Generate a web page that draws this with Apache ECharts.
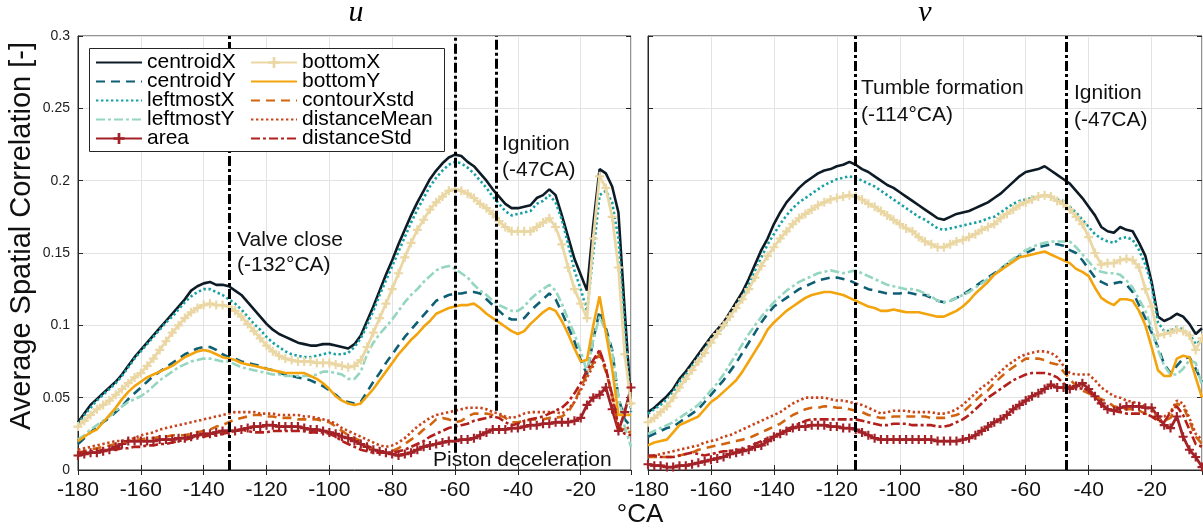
<!DOCTYPE html>
<html><head><meta charset="utf-8">
<script src="https://cdn.jsdelivr.net/npm/echarts@6/dist/echarts.min.js"></script>
<style>html,body{margin:0;padding:0;background:#fff}#c{width:1203px;height:530px}</style>
</head><body><div id="c"></div>
<script>
const CA = [-180,-178,-176,-174,-172,-170,-168,-166,-164,-162,
-160,-158,-156,-154,-152,-150,-148,-146,-144,-142,
-140,-138,-136,-134,-132,-130,-128,-126,-124,-122,
-120,-118,-116,-114,-112,-110,-108,-106,-104,-102,
-100,-98,-96,-94,-92,-90,-88,-86,-84,-82,
-80,-78,-76,-74,-72,-70,-68,-66,-64,-62,
-60,-58,-56,-54,-52,-50,-48,-46,-44,-42,
-40,-38,-36,-34,-32,-30,-28,-26,-24,-22,
-20,-18,-16,-14,-12,-10,-8,-6,-4];

const seriesNames = ['centroidX','centroidY','leftmostX','leftmostY','area','bottomX','bottomY','contourXstd','distanceMean','distanceStd'];
const panelTitles = ['u','v'];

// ---- panel u ----
const u_centroidX = [.033,.039,.045,.049,.053,.057,.061,.066,.072,.078,
.083,.088,.093,.098,.103,.108,.113,.118,.124,.127,
.129,.130,.128,.128,.127,.124,.121,.116,.111,.106,
.101,.097,.094,.092,.090,.088,.087,.086,.086,.087,
.087,.086,.085,.084,.087,.093,.103,.113,.124,.135,
.145,.156,.166,.176,.185,.193,.201,.207,.212,.216,
.218,.217,.213,.210,.205,.200,.194,.189,.184,.181,
.181,.182,.183,.188,.190,.194,.190,.176,.161,.146,
.135,.124,.170,.208,.205,.196,.178,.110,.045];
const u_centroidY = [.018,.022,.026,.030,.033,.036,.040,.044,.049,.053,
.057,.061,.065,.068,.071,.074,.077,.080,.082,.084,
.085,.085,.083,.080,.078,.077,.075,.074,.073,.072,
.070,.069,.067,.066,.065,.064,.063,.062,.060,.058,
.055,.052,.048,.047,.046,.047,.054,.061,.067,.074,
.080,.086,.092,.097,.102,.107,.112,.117,.119,.121,
.122,.122,.123,.123,.122,.118,.114,.110,.106,.104,
.104,.105,.110,.114,.118,.122,.118,.109,.099,.089,
.076,.066,.090,.110,.098,.083,.050,.035,.030];
const u_leftmostX = [.032,.038,.043,.048,.052,.056,.060,.065,.071,.077,
.082,.087,.092,.097,.102,.106,.111,.116,.120,.123,
.125,.125,.123,.121,.118,.115,.111,.106,.101,.097,
.092,.088,.085,.082,.080,.079,.078,.078,.079,.080,
.081,.080,.080,.081,.085,.091,.100,.110,.121,.131,
.141,.151,.161,.171,.180,.188,.196,.202,.207,.211,
.213,.212,.209,.205,.200,.195,.189,.184,.179,.176,
.177,.178,.179,.184,.186,.190,.185,.173,.156,.138,
.125,.110,.150,.190,.193,.185,.160,.100,.040];
const u_leftmostY = [.021,.024,.028,.031,.034,.037,.041,.044,.047,.049,
.051,.054,.058,.062,.065,.068,.071,.073,.075,.076,
.077,.077,.076,.075,.075,.073,.071,.070,.069,.068,
.067,.066,.066,.065,.065,.065,.065,.065,.066,.068,
.068,.067,.066,.063,.063,.068,.080,.088,.094,.099,
.104,.110,.116,.121,.125,.130,.134,.138,.140,.141,
.139,.136,.133,.128,.124,.121,.117,.114,.112,.110,
.110,.113,.118,.122,.125,.128,.124,.115,.104,.094,
.082,.068,.090,.106,.096,.082,.050,.030,.016];
const u_area = [.010,.011,.012,.012,.013,.014,.016,.018,.020,.020,
.020,.020,.020,.021,.021,.021,.022,.022,.023,.024,
.025,.025,.026,.027,.027,.027,.028,.029,.030,.030,
.031,.031,.030,.030,.030,.030,.029,.028,.028,.027,
.026,.025,.023,.022,.020,.018,.016,.014,.013,.012,
.011,.010,.011,.012,.014,.016,.017,.018,.019,.020,
.020,.021,.021,.022,.024,.026,.028,.028,.028,.029,
.029,.030,.031,.031,.032,.032,.033,.033,.033,.034,
.036,.045,.050,.052,.057,.042,.027,.040,.057];
const u_bottomX = [.030,.034,.038,.042,.045,.048,.052,.056,.060,.064,
.067,.072,.077,.083,.089,.095,.100,.105,.109,.112,
.114,.115,.114,.114,.113,.110,.106,.101,.096,.091,
.086,.082,.079,.077,.076,.075,.075,.075,.074,.074,
.074,.073,.072,.071,.072,.076,.085,.095,.105,.115,
.125,.136,.147,.157,.166,.173,.180,.185,.189,.193,
.194,.193,.191,.188,.184,.181,.177,.172,.168,.165,
.165,.165,.165,.168,.171,.174,.168,.156,.140,.125,
.115,.105,.160,.203,.195,.175,.140,.080,.046];
const u_bottomY = [.020,.023,.026,.028,.033,.038,.043,.049,.054,.058,
.061,.064,.066,.068,.070,.072,.075,.078,.080,.082,
.083,.082,.080,.078,.077,.076,.074,.073,.072,.071,
.070,.069,.068,.067,.067,.067,.067,.065,.063,.060,
.056,.051,.048,.046,.045,.046,.051,.056,.062,.068,
.074,.080,.085,.090,.094,.099,.103,.108,.110,.112,
.113,.114,.114,.115,.112,.108,.105,.102,.099,.096,
.094,.096,.101,.105,.109,.112,.110,.103,.094,.084,
.075,.076,.100,.120,.095,.070,.038,.038,.038];
const u_contourXstd = [.012,.013,.014,.015,.016,.017,.018,.019,.020,.021,
.021,.022,.022,.023,.023,.024,.024,.024,.025,.026,
.027,.028,.030,.031,.033,.035,.036,.037,.038,.038,
.037,.037,.036,.036,.036,.035,.035,.035,.035,.034,
.033,.030,.027,.024,.022,.020,.017,.014,.012,.012,
.013,.015,.018,.021,.024,.028,.031,.035,.036,.035,
.033,.034,.037,.039,.039,.039,.038,.038,.036,.033,
.033,.034,.035,.035,.035,.036,.036,.037,.040,.047,
.057,.066,.074,.080,.068,.052,.030,.027,.026];
const u_distanceMean = [.014,.015,.016,.017,.018,.019,.020,.020,.021,.022,
.024,.025,.026,.028,.029,.030,.031,.032,.033,.034,
.035,.036,.037,.038,.039,.040,.040,.040,.040,.039,
.039,.039,.038,.038,.038,.038,.037,.037,.036,.035,
.034,.032,.029,.027,.025,.023,.021,.019,.017,.016,
.017,.019,.022,.026,.030,.033,.036,.038,.039,.040,
.041,.042,.043,.043,.043,.042,.040,.039,.037,.036,
.037,.039,.040,.040,.040,.040,.040,.039,.042,.047,
.055,.064,.072,.083,.070,.050,.028,.028,.030];
const u_distanceStd = [.012,.012,.013,.013,.014,.014,.014,.015,.015,.016,
.016,.017,.017,.018,.018,.019,.020,.021,.022,.023,
.023,.024,.024,.025,.026,.027,.028,.027,.026,.026,
.026,.027,.027,.027,.027,.027,.027,.026,.026,.026,
.025,.023,.020,.018,.016,.014,.013,.012,.012,.012,
.012,.013,.014,.016,.018,.020,.023,.025,.027,.029,
.030,.031,.032,.034,.035,.036,.037,.036,.033,.031,
.032,.034,.035,.036,.037,.039,.041,.043,.047,.053,
.060,.069,.076,.083,.070,.052,.030,.025,.024];

// ---- panel v ----
const v_centroidX = [.040,.043,.047,.051,.056,.063,.068,.074,.080,.086,
.092,.097,.102,.109,.116,.123,.132,.142,.152,.160,
.170,.178,.185,.190,.195,.199,.202,.205,.207,.208,
.210,.211,.213,.211,.208,.206,.203,.200,.197,.195,
.192,.189,.186,.183,.180,.177,.174,.173,.175,.177,
.178,.179,.181,.183,.185,.188,.191,.195,.199,.203,
.206,.207,.208,.210,.207,.204,.201,.198,.193,.188,
.182,.176,.168,.165,.164,.168,.166,.165,.157,.148,
.130,.106,.103,.105,.108,.106,.101,.094,.098];
const v_centroidY = [.023,.025,.027,.029,.030,.033,.036,.039,.042,.047,
.052,.057,.062,.068,.074,.081,.088,.095,.102,.108,
.113,.116,.119,.122,.125,.127,.129,.131,.132,.133,
.133,.132,.131,.129,.127,.125,.124,.123,.122,.122,
.122,.123,.122,.121,.121,.119,.117,.116,.117,.119,
.121,.124,.127,.130,.133,.136,.139,.142,.145,.148,
.150,.152,.154,.155,.156,.156,.155,.152,.150,.145,
.139,.133,.130,.128,.129,.130,.128,.123,.114,.105,
.095,.085,.073,.067,.072,.077,.078,.070,.061];
const v_leftmostX = [.039,.042,.045,.049,.054,.061,.066,.072,.078,.083,
.089,.094,.099,.106,.113,.120,.128,.138,.147,.156,
.163,.170,.176,.181,.185,.188,.191,.194,.197,.199,
.201,.202,.203,.202,.200,.198,.196,.193,.190,.187,
.184,.181,.178,.175,.173,.170,.167,.166,.167,.168,
.169,.170,.171,.172,.174,.175,.178,.181,.184,.186,
.187,.188,.189,.190,.189,.187,.186,.182,.178,.173,
.168,.163,.160,.158,.157,.160,.161,.159,.152,.142,
.128,.102,.096,.096,.099,.097,.094,.087,.090];
const v_leftmostY = [.025,.027,.029,.031,.033,.036,.039,.042,.045,.050,
.055,.060,.066,.073,.080,.087,.094,.100,.106,.111,
.116,.120,.124,.127,.130,.132,.134,.136,.137,.138,
.137,.136,.137,.138,.136,.134,.132,.130,.128,.127,
.126,.125,.125,.124,.122,.120,.117,.116,.117,.119,
.121,.123,.126,.129,.132,.135,.139,.143,.146,.149,
.152,.154,.156,.157,.158,.158,.158,.158,.154,.149,
.144,.139,.137,.136,.136,.135,.131,.126,.118,.110,
.098,.083,.072,.066,.066,.070,.076,.074,.058];
const v_area = [.004,.003,.003,.002,.002,.003,.003,.004,.005,.006,
.007,.008,.009,.011,.012,.013,.014,.016,.017,.020,
.023,.025,.027,.029,.030,.030,.031,.031,.031,.030,
.030,.029,.029,.028,.026,.024,.022,.021,.021,.021,
.021,.021,.021,.021,.021,.021,.020,.020,.020,.020,
.021,.022,.024,.027,.030,.033,.035,.038,.042,.045,
.048,.051,.053,.056,.059,.057,.057,.056,.058,.060,
.056,.051,.046,.042,.041,.043,.044,.044,.044,.043,
.043,.037,.031,.029,.037,.023,.014,.009,.002];
const v_bottomX = [.033,.036,.040,.044,.050,.057,.063,.069,.075,.081,
.088,.094,.100,.106,.112,.118,.125,.133,.141,.148,
.154,.160,.165,.170,.174,.177,.180,.183,.185,.187,
.188,.189,.190,.189,.187,.184,.182,.179,.176,.173,
.170,.167,.165,.161,.158,.156,.154,.154,.156,.158,
.159,.161,.163,.166,.168,.170,.174,.177,.180,.183,
.185,.187,.189,.190,.189,.186,.184,.180,.175,.170,
.161,.150,.142,.143,.143,.145,.146,.145,.140,.125,
.113,.093,.094,.095,.097,.096,.093,.083,.091];
const v_bottomY = [.017,.019,.020,.021,.026,.031,.033,.035,.037,.042,
.047,.050,.054,.058,.062,.068,.075,.082,.089,.097,
.102,.106,.110,.113,.116,.119,.121,.122,.123,.123,
.122,.121,.119,.117,.115,.113,.112,.110,.110,.111,
.110,.109,.109,.109,.108,.107,.106,.106,.108,.110,
.113,.117,.122,.126,.130,.135,.138,.141,.144,.147,
.148,.149,.150,.151,.149,.147,.145,.143,.139,.137,
.134,.126,.119,.116,.114,.118,.118,.117,.110,.100,
.085,.069,.065,.065,.077,.079,.078,.064,.050];
const v_contourXstd = [.009,.009,.009,.009,.009,.010,.011,.012,.014,.015,
.016,.017,.018,.019,.020,.021,.022,.024,.026,.028,
.030,.032,.035,.038,.040,.042,.043,.043,.044,.044,
.043,.043,.042,.041,.040,.038,.037,.036,.036,.037,
.037,.037,.037,.037,.037,.036,.036,.036,.037,.038,
.040,.044,.048,.052,.055,.060,.064,.068,.071,.074,
.077,.077,.077,.076,.074,.073,.068,.063,.058,.055,
.053,.051,.049,.047,.044,.043,.042,.042,.041,.039,
.037,.035,.034,.036,.046,.044,.034,.023,.018];
const v_distanceMean = [.009,.010,.011,.012,.013,.014,.015,.016,.017,.019,
.020,.021,.023,.024,.026,.028,.030,.032,.034,.036,
.038,.040,.043,.046,.048,.050,.050,.050,.050,.049,
.048,.048,.047,.046,.045,.043,.041,.039,.040,.041,
.041,.041,.040,.040,.040,.040,.039,.039,.040,.042,
.045,.049,.053,.057,.060,.064,.068,.072,.075,.078,
.080,.081,.082,.082,.081,.078,.072,.067,.066,.066,
.066,.062,.057,.054,.051,.050,.048,.047,.046,.044,
.041,.037,.037,.040,.048,.046,.036,.025,.021];
const v_distanceStd = [.010,.010,.009,.009,.009,.010,.011,.012,.011,.010,
.011,.012,.013,.013,.014,.014,.016,.018,.020,.022,
.023,.025,.028,.030,.032,.034,.035,.035,.035,.035,
.035,.035,.035,.035,.034,.033,.032,.031,.031,.032,
.032,.032,.031,.031,.031,.031,.030,.030,.031,.033,
.035,.038,.042,.046,.050,.053,.056,.059,.062,.064,
.066,.067,.067,.067,.066,.064,.060,.057,.057,.056,
.055,.050,.045,.042,.041,.040,.039,.039,.039,.039,
.037,.034,.033,.040,.044,.038,.028,.018,.016];

const panelU = [u_centroidX,u_centroidY,u_leftmostX,u_leftmostY,u_area,u_bottomX,u_bottomY,u_contourXstd,u_distanceMean,u_distanceStd];
const panelV = [v_centroidX,v_centroidY,v_leftmostX,v_leftmostY,v_area,v_bottomX,v_bottomY,v_contourXstd,v_distanceMean,v_distanceStd];

// event lines (crank angle, lower end value)
const eventsU = [-132,-60,-47];
const eventsUFrom = [0,0.012,0.041];
const eventsV = [-114,-47];
const eventsVFrom = [0,0];

const PLUS = 'path://M-1.2,-5H1.2V-1.2H5V1.2H1.2V5H-1.2V1.2H-5V-1.2H-1.2Z';
const styles = [
  {color:'#0d1b26', type:'solid', width:2.6},
  {color:'#0f5f74', type:[9,6], width:2.6},
  {color:'#18a0a4', type:[2.4,2.6], width:2.6},
  {color:'#94d6c0', type:[9,3,3,3], width:2.6},
  {color:'#a32228', type:'solid', width:2.8, plus:true},
  {color:'#ead7a4', type:'solid', width:2.8, plus:true},
  {color:'#f3a30c', type:'solid', width:2.6},
  {color:'#d2640f', type:[9,6], width:2.6},
  {color:'#c8441c', type:[2.4,2.6], width:2.6},
  {color:'#b3201c', type:[9,3,3,3], width:2.6}
];

const series = [];
[panelU, panelV].forEach((panel, p) => {
  panel.forEach((arr, k) => {
    const st = styles[k];
    series.push({
      name: seriesNames[k], type:'line', xAxisIndex:p, yAxisIndex:p,
      data: CA.map((x,i)=>[x, arr[i]]),
      symbol: st.plus ? PLUS : 'none', symbolSize: 9, showSymbol: !!st.plus, showAllSymbol: true,
      itemStyle:{color: st.color},
      lineStyle:{color: st.color, width: st.width, type: st.type},
      animation:false, silent:true
    });
  });
  const ev = p===0 ? eventsU : eventsV;
  const evFrom = p===0 ? eventsUFrom : eventsVFrom;
  series.push({
    type:'line', xAxisIndex:p, yAxisIndex:p, data:[], z:5, animation:false, silent:true,
    markLine:{symbol:['none','none'], silent:true, animation:false, label:{show:false},
      lineStyle:{color:'#000', width:3, type:[10,3,3,3]},
      data: ev.map((x,i)=>[{coord:[x, evFrom[i]]},{coord:[x, 0.3]}])}
  });
});

const tickColor = '#262626';
function xAx(grid, pos, labels){
  return {type:'value', gridIndex:grid, position:pos, min:-180, max:-4, interval:20,
    axisLine:{show:labels, lineStyle:{color:tickColor, width:1}},
    axisTick:{show:true, inside:true, length:5, lineStyle:{color:tickColor}},
    axisLabel:{show:labels, showMaxLabel:false, fontSize:21, color:'#111', fontFamily:'Liberation Sans', margin:10},
    splitLine:{show:labels, lineStyle:{color:'#e3e3e3', width:1}}};
}
function yAx(grid, pos, labels, main){
  return {type:'value', gridIndex:grid, position:pos, min:0, max:0.3, interval:0.05,
    axisLine:{show:main, lineStyle:{color:tickColor, width:1}},
    axisTick:{show:true, inside:true, length:5, lineStyle:{color:tickColor}},
    axisLabel:{show:labels, fontSize:14, color:'#222', fontFamily:'Liberation Sans', margin:8},
    splitLine:{show:main, lineStyle:{color:'#e3e3e3', width:1}}};
}

function legendItems(names){
  return names.map(n => {
    const k = seriesNames.indexOf(n);
    return styles[k].plus ? {name:n} : {name:n, itemStyle:{color:'rgba(0,0,0,0)', borderWidth:0, opacity:0}};
  });
}
const legendCommon = {orient:'vertical', padding:0, itemWidth:46, itemHeight:14, itemGap:-2,
  selectedMode:false, z:20, textStyle:{fontSize:21, lineHeight:18, color:'#000', fontFamily:'Liberation Sans'}};

const option = {
  animation:false,
  grid:[
    {left:78, top:36, width:553, height:434, show:true, borderColor:tickColor, borderWidth:1, backgroundColor:'#fff'},
    {left:648, top:36, width:554, height:434, show:true, borderColor:tickColor, borderWidth:1, backgroundColor:'#fff'}
  ],
  xAxis:[xAx(0,'bottom',true), xAx(1,'bottom',true), xAx(0,'top',false), xAx(1,'top',false)],
  yAxis:[yAx(0,'left',true,true), yAx(1,'left',false,true), yAx(0,'right',false,false), yAx(1,'right',false,false)],
  legend:[
    Object.assign({left:95, top:52, data:legendItems(seriesNames.slice(0,5))}, legendCommon),
    Object.assign({left:250, top:52, data:legendItems(seriesNames.slice(5))}, legendCommon)
  ],
  graphic:[
    {type:'rect', z:15, shape:{x:89.5, y:48.5, width:355, height:103}, style:{fill:'#fff', stroke:'#262626', lineWidth:1}},
    {type:'text', x:356, y:13, style:{text:panelTitles[0], font:'italic 30px "Liberation Serif"', fill:'#000', align:'center', verticalAlign:'middle', textAlign:'center', textVerticalAlign:'middle'}},
    {type:'text', x:925, y:13, style:{text:panelTitles[1], font:'italic 30px "Liberation Serif"', fill:'#000', align:'center', verticalAlign:'middle', textAlign:'center', textVerticalAlign:'middle'}},
    {type:'text', x:22, y:236, rotation:Math.PI/2, style:{text:'Average Spatial Correlation [-]', font:'29px "Liberation Sans"', fill:'#111', align:'center', verticalAlign:'middle', textAlign:'center', textVerticalAlign:'middle'}},
    {type:'text', x:640, y:515, style:{text:'°CA', font:'26px "Liberation Sans"', fill:'#111', align:'center', verticalAlign:'middle', textAlign:'center', textVerticalAlign:'middle'}},
    {type:'text', x:237, y:240, z:20, style:{text:'Valve close', font:'21px "Liberation Sans"', fill:'#111', verticalAlign:'middle', textVerticalAlign:'middle'}},
    {type:'text', x:237, y:265, z:20, style:{text:'(-132°CA)', font:'21px "Liberation Sans"', fill:'#111', verticalAlign:'middle', textVerticalAlign:'middle'}},
    {type:'text', x:502, y:144, z:20, style:{text:'Ignition', font:'21px "Liberation Sans"', fill:'#111', verticalAlign:'middle', textVerticalAlign:'middle'}},
    {type:'text', x:502, y:170, z:20, style:{text:'(-47CA)', font:'21px "Liberation Sans"', fill:'#111', verticalAlign:'middle', textVerticalAlign:'middle'}},
    {type:'text', x:433, y:460, z:20, style:{text:'Piston deceleration', font:'21px "Liberation Sans"', fill:'#111', verticalAlign:'middle', textVerticalAlign:'middle'}},
    {type:'text', x:861, y:88, z:20, style:{text:'Tumble formation', font:'21px "Liberation Sans"', fill:'#111', verticalAlign:'middle', textVerticalAlign:'middle'}},
    {type:'text', x:861, y:115, z:20, style:{text:'(-114°CA)', font:'21px "Liberation Sans"', fill:'#111', verticalAlign:'middle', textVerticalAlign:'middle'}},
    {type:'text', x:1074, y:93, z:20, style:{text:'Ignition', font:'21px "Liberation Sans"', fill:'#111', verticalAlign:'middle', textVerticalAlign:'middle'}},
    {type:'text', x:1074, y:120, z:20, style:{text:'(-47CA)', font:'21px "Liberation Sans"', fill:'#111', verticalAlign:'middle', textVerticalAlign:'middle'}}
  ],
  series: series
};
const chart = echarts.init(document.getElementById('c'), null, {renderer:'canvas'});
chart.setOption(option);
</script>
</body></html>
